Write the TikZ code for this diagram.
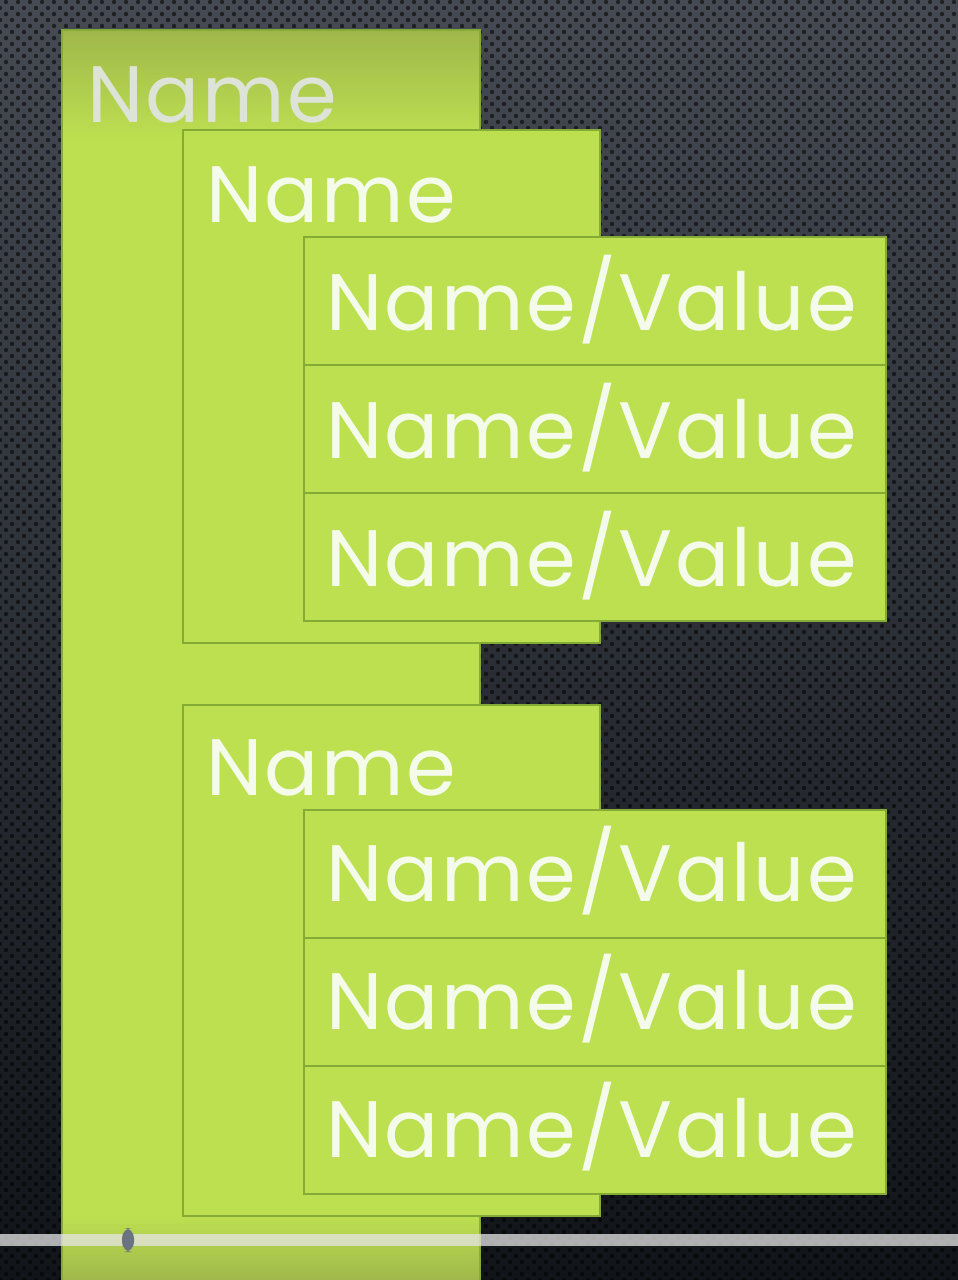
\documentclass[tikz,border=0pt]{standalone}
\usepackage{fontspec}
\setmainfont{Poppins}[LetterSpace=3]
\usetikzlibrary{positioning,patterns}
\definecolor{leaf}{HTML}{BDE051}
\definecolor{leafdark}{HTML}{A0B84A}
\definecolor{leafedge}{HTML}{86AA36}
\definecolor{chalk}{HTML}{F5FBEA}
\definecolor{mist}{HTML}{DDE3D6}
\definecolor{slate}{HTML}{454A53}
\definecolor{coal}{HTML}{111418}
\definecolor{knob}{HTML}{6B7280}
\pgfdeclarepatternformonly{pores}{\pgfqpoint{-1pt}{-1pt}}{\pgfqpoint{7pt}{7pt}}{\pgfqpoint{6pt}{6pt}}{
  \pgfpathcircle{\pgfqpoint{0pt}{0pt}}{1.1pt}
  \pgfpathcircle{\pgfqpoint{3pt}{3pt}}{1.1pt}
  \pgfusepath{fill}}
\begin{document}
\begin{tikzpicture}[x=0.5pt,y=-0.5pt,
    box/.style={draw=leafedge,line width=1.3pt,fill=leaf},
    tag/.style={anchor=base west,inner sep=0pt,text=chalk,font=\fontsize{40}{40}\selectfont}]
  \useasboundingbox (0,0) rectangle (958,1280);
  %% backdrop
  \shade[top color=slate,bottom color=coal] (0,0) rectangle (958,1280);
  \fill[pattern=pores,pattern color=black,opacity=0.55] (0,0) rectangle (958,1280);
  %% outer record
  \draw[box] (62,30) rectangle (480,1295);
  \shade[top color=leafdark,bottom color=leaf] (63,31) rectangle (479,140);
  \shade[top color=leaf,bottom color=leafdark] (63,1215) rectangle (479,1280);
  \node[tag,text=mist] (root) at (87,122) {Name};
  %% first group
  \draw[box] (183,130) rectangle (600,643);
  \node[tag] (grpA) at (206,222) {Name};
  \foreach \i/\y in {1/237,2/365,3/493} {
    \draw[box] (304,\y) rectangle (886,\y+128);
    \node[tag] (pairA\i) at (326,\y+93) {Name/Value};
  }
  %% second group
  \draw[box] (183,705) rectangle (600,1216);
  \node[tag] (grpB) at (206,795) {Name};
  \foreach \i/\y in {1/810,2/938,3/1066} {
    \draw[box] (304,\y) rectangle (886,\y+128);
    \node[tag] (pairB\i) at (326,\y+91) {Name/Value};
  }
  %% player bar
  \fill[white!80!gray,opacity=0.75] (0,1234) rectangle (958,1246);
  \fill[knob,rounded corners=5] (122,1228) rectangle (134,1252);
\end{tikzpicture}
\end{document}
